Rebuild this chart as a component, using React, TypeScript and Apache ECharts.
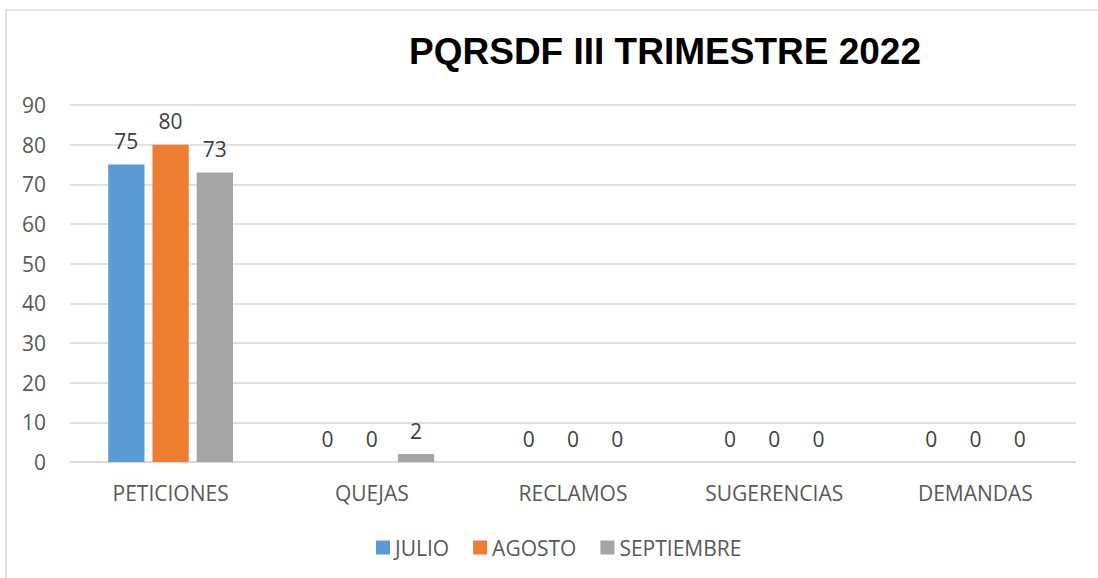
import React, { useEffect, useRef } from "react";
import * as echarts from "echarts";

const categories = ["PETICIONES", "QUEJAS", "RECLAMOS", "SUGERENCIAS", "DEMANDAS"];
const julio = [75, 0, 0, 0, 0];
const agosto = [80, 0, 0, 0, 0];
const septiembre = [73, 2, 0, 0, 0];
const seriesNames = ["JULIO", "AGOSTO", "SEPTIEMBRE"];
const colors = ["#5B9BD5", "#ED7D31", "#A5A5A5"];
const titleText = "PQRSDF III TRIMESTRE 2022";

const FONT = "'Open Sans', 'Noto Sans', sans-serif";
const FS = 21;

export default function App() {
  const ref = useRef<HTMLDivElement>(null);
  useEffect(() => {
    if (!ref.current) return;
    const chart = echarts.init(ref.current, undefined, { renderer: "svg" });
    const data = [julio, agosto, septiembre];
    chart.setOption({
      animation: false,
      backgroundColor: "#ffffff",
      title: {
        text: titleText,
        left: 660,
        top: 28,
        textAlign: "center",
        textStyle: {
          fontFamily: "'Liberation Sans', Arial, sans-serif",
          fontWeight: "bold",
          fontSize: 37,
          color: "#000000",
        },
      },
      graphic: [
        {
          type: "rect",
          shape: { x: 6, y: 10, width: 1200, height: 700 },
          style: { fill: "none", stroke: "#D9D9D9", lineWidth: 1.5 },
          silent: true,
          z: -1,
        },
      ],
      legend: {
        left: 371,
        top: 532,
        itemWidth: 14,
        itemHeight: 14,
        itemGap: 24,
        icon: "rect",
        textStyle: { fontFamily: FONT, fontSize: FS, color: "#595959" },
        data: seriesNames,
      },
      grid: { left: 70, right: 22, top: 105, bottom: 116, containLabel: false },
      xAxis: {
        type: "category",
        data: categories,
        axisLine: { show: true, lineStyle: { color: "#D9D9D9", width: 1.5 } },
        axisTick: { show: false },
        axisLabel: { fontFamily: FONT, fontSize: FS, color: "#595959", margin: 20 },
      },
      yAxis: {
        type: "value",
        min: 0,
        max: 90,
        interval: 10,
        axisLine: { show: false },
        axisTick: { show: false },
        splitLine: { lineStyle: { color: "#D9D9D9", width: 1.5 } },
        axisLabel: { fontFamily: FONT, fontSize: FS, color: "#595959", margin: 24 },
      },
      series: seriesNames.map((name, i) => ({
        name,
        type: "bar",
        data: data[i],
        barGap: "22%",
        barCategoryGap: "38%",
        itemStyle: { color: colors[i] },
        label: {
          show: true,
          position: "top",
          distance: 13,
          fontFamily: FONT,
          fontSize: FS,
          color: "#404040",
        },
      })),
    });
    return () => chart.dispose();
  }, []);
  return (
    <div
      ref={ref}
      style={{ position: "fixed", left: 0, top: 0, width: 1098, height: 578 }}
    />
  );
}
